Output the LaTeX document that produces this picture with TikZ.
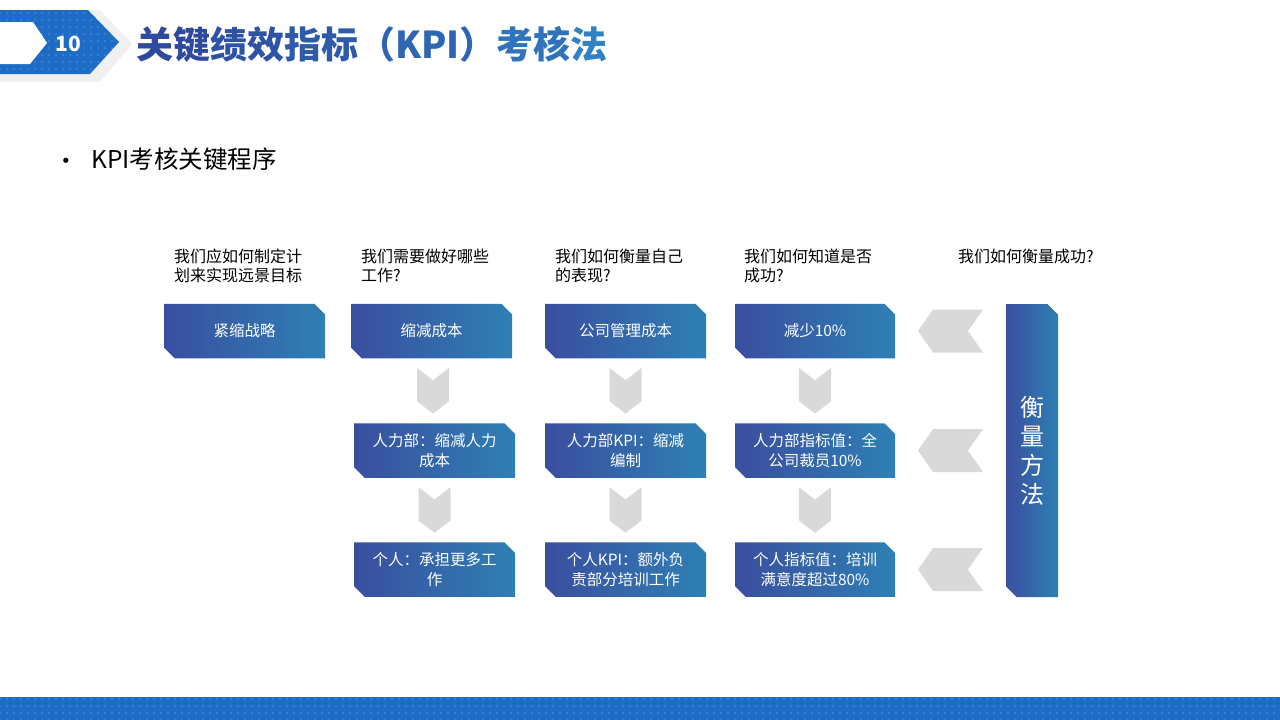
\documentclass[tikz,border=0pt]{standalone}
\usepackage{fontspec}
\setmainfont{Noto Sans CJK SC}
\newfontfamily\symfont{DejaVu Sans}
\usetikzlibrary{positioning,calc,shapes.misc,shapes.symbols,patterns.meta}
\definecolor{kpiL}{HTML}{3A4E9F}
\definecolor{kpiR}{HTML}{2E80B4}
\definecolor{chev}{HTML}{D9D9D9}
\definecolor{band}{HTML}{1C6CC6}
\definecolor{ttlA}{HTML}{2E4A9E}
\definecolor{ttlB}{HTML}{2F82C4}
\tikzset{
  kbox/.style={chamfered rectangle,chamfered rectangle corners={north east,south west},
    chamfered rectangle xsep=7pt,left color=kpiL,right color=kpiR,minimum width=#1,
    minimum height=54.5pt,inner sep=0pt,text=white,align=center,font=\fontsize{15.5}{20}\selectfont},
  kbox/.default={161pt},
  dchev/.style={signal,signal to=south,signal from=north,signal pointer angle=105,fill=chev,
    minimum width=32pt,minimum height=21pt,inner sep=0pt},
  lchev/.style={signal,signal to=west,signal from=east,signal pointer angle=110,fill=chev,
    minimum width=65pt,minimum height=43pt,inner sep=0pt},
  qlbl/.style={anchor=north west,align=left,inner sep=0pt,font=\fontsize{16}{19}\selectfont},
  dotfill/.style={fill=band,postaction={pattern={Dots[distance=7pt,radius=0.6pt]},pattern color=white!55!band}},
}

\begin{document}
\begin{tikzpicture}[x=1pt,y=-1pt]
 \useasboundingbox[fill=white] (0,0) rectangle (1280,720);
 % header badge
 \fill[gray!12] (0,10)--(100,10)--(132,44)--(100,82)--(0,82)--cycle;
 \path[dotfill] (0,10)--(88,10)--(119,42)--(90,74)--(0,74)--cycle;
 \fill[white] (0,22)--(33,22)--(47,43)--(30,64)--(0,64)--cycle;
 \node[text=white,font=\fontsize{21}{21}\selectfont\bfseries] (num) at (68,44) {10};
 \node[anchor=west,inner sep=0pt,font=\fontsize{37}{37}\selectfont\bfseries] (title) at (136,44)
   {{\color{ttlA}关键}{\color{ttlA!85!ttlB}绩效}{\color{ttlA!70!ttlB}指标}{\color{ttlA!50!ttlB}（KPI）}{\color{ttlA!25!ttlB}考核}{\color{ttlB}法}};
 \path[dotfill] (0,697) rectangle (1280,720);
 % bullet
 \node[anchor=base,inner sep=0pt,font=\symfont\fontsize{18}{18}\selectfont] (dot) at (66,167) {•};
 \node[anchor=base west,inner sep=0pt,font=\fontsize{24.5}{24.5}\selectfont] (sub) at (91,168) {KPI考核关键程序};
 % questions
 \node[qlbl] (q0) at (174,249) {我们应如何制定计\\划来实现远景目标};
 \node[qlbl] (q1) at (361,249) {我们需要做好哪些\\工作?};
 \node[qlbl] (q2) at (555,249) {我们如何衡量自己\\的表现?};
 \node[qlbl] (q3) at (744,249) {我们如何知道是否\\成功?};
 \node[qlbl] (q4) at (958,249) {我们如何衡量成功?};
 % boxes
 \node[kbox] (c0r1) at (244.5,331) {紧缩战略};
 \node[kbox] (c1r1) at (431.5,331) {缩减成本};
 \node[kbox] (c1r2) at (434.5,450.5) {人力部：缩减人力\\成本};
 \node[kbox] (c1r3) at (434.5,569.5) {个人：承担更多工\\作};
 \node[kbox] (c2r1) at (625.5,331) {公司管理成本};
 \node[kbox] (c2r2) at (625.5,450.5) {人力部KPI：缩减\\编制};
 \node[kbox] (c2r3) at (625.5,569.5) {个人KPI：额外负\\责部分培训工作};
 \node[kbox=160pt] (c3r1) at (815,331) {减少10\%};
 \node[kbox=160pt] (c3r2) at (815,450.5) {人力部指标值：全\\公司裁员10\%};
 \node[kbox=160pt] (c3r3) at (815,569.5) {个人指标值：培训\\满意度超过80\%};
 \node[kbox=52pt,minimum height=293pt,font=\fontsize{24}{29}\selectfont] (measure) at (1032,450.5) {衡\\量\\方\\法};
 % chevrons
 \foreach \c in {1,2,3}{
   \node[dchev] (d\c a) at ($(c\c r1.south)!0.5!(c\c r2.north)$) {};
   \node[dchev] (d\c b) at ($(c\c r2.south)!0.5!(c\c r3.north)$) {};
 }
 \node[lchev] (l1) at (950.5,331) {};
 \node[lchev] (l2) at (950.5,450.5) {};
 \node[lchev] (l3) at (950.5,569.5) {};
\end{tikzpicture}
\end{document}
